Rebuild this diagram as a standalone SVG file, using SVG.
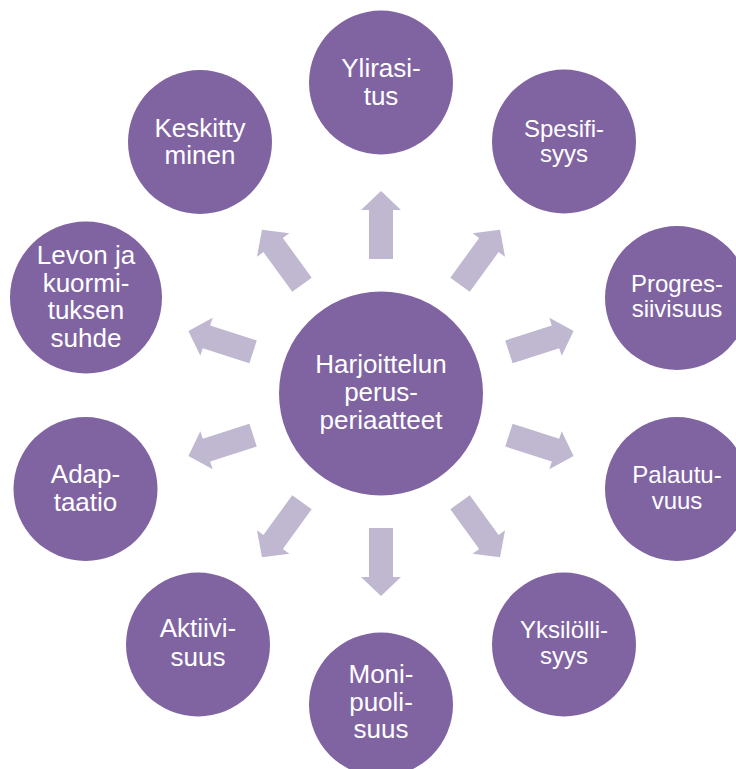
<svg xmlns="http://www.w3.org/2000/svg" width="736" height="769" viewBox="0 0 736 769">
<style>
.n{fill:#8064A2}
.t{font-family:"Liberation Sans",Arial,sans-serif;fill:#ffffff;text-anchor:middle}
.s26{font-size:26px}
.s24{font-size:24px}
.a{fill:#BFB8D0}
</style>
<defs>
<path id="arr" d="M369,259 L369,210 L361,210 L381,191 L401,210 L393,210 L393,259 Z"/>
</defs>
<rect width="736" height="769" fill="#ffffff"/>
<g id="connectors" class="a">
<use href="#arr"/>
<use href="#arr" transform="rotate(36 381 393.5)"/>
<use href="#arr" transform="rotate(72 381 393.5)"/>
<use href="#arr" transform="rotate(108 381 393.5)"/>
<use href="#arr" transform="rotate(144 381 393.5)"/>
<use href="#arr" transform="rotate(180 381 393.5)"/>
<use href="#arr" transform="rotate(216 381 393.5)"/>
<use href="#arr" transform="rotate(252 381 393.5)"/>
<use href="#arr" transform="rotate(288 381 393.5)"/>
<use href="#arr" transform="rotate(324 381 393.5)"/>
</g>
<g id="center">
<circle class="n" cx="381" cy="393.5" r="102"/>
<text class="t s26"><tspan x="381" y="373">Harjoittelun</tspan><tspan x="381" y="401">perus-</tspan><tspan x="381" y="428.5">periaatteet</tspan></text>
</g>
<g id="ylirasitus">
<circle class="n" cx="381" cy="82.5" r="72"/>
<text class="t s26"><tspan x="381" y="77">Ylirasi-</tspan><tspan x="381" y="105">tus</tspan></text>
</g>
<g id="spesifisyys">
<circle class="n" cx="564" cy="141.5" r="72"/>
<text class="t s24"><tspan x="564" y="137">Spesifi-</tspan><tspan x="564" y="162">syys</tspan></text>
</g>
<g id="progressiivisuus">
<circle class="n" cx="677" cy="298" r="72"/>
<text class="t s24"><tspan x="677" y="292">Progres-</tspan><tspan x="677" y="317">siivisuus</tspan></text>
</g>
<g id="palautuvuus">
<circle class="n" cx="677" cy="489" r="72"/>
<text class="t s24"><tspan x="677" y="483">Palautu-</tspan><tspan x="677" y="509">vuus</tspan></text>
</g>
<g id="yksilollisyys">
<circle class="n" cx="564" cy="644.5" r="72"/>
<text class="t s24"><tspan x="564" y="638">Yksilölli-</tspan><tspan x="564" y="664">syys</tspan></text>
</g>
<g id="monipuolisuus">
<circle class="n" cx="381" cy="704.5" r="72"/>
<text class="t s26"><tspan x="381" y="683">Moni-</tspan><tspan x="381" y="710.5">puoli-</tspan><tspan x="381" y="738">suus</tspan></text>
</g>
<g id="aktiivisuus">
<circle class="n" cx="198" cy="644.5" r="72"/>
<text class="t s26"><tspan x="198" y="637">Aktiivi-</tspan><tspan x="198" y="666">suus</tspan></text>
</g>
<g id="adaptaatio">
<circle class="n" cx="85.5" cy="489" r="72"/>
<text class="t s26"><tspan x="85.5" y="483">Adap-</tspan><tspan x="85.5" y="511">taatio</tspan></text>
</g>
<g id="levon">
<circle class="n" cx="86" cy="297.5" r="76"/>
<text class="t s26"><tspan x="86" y="264">Levon ja</tspan><tspan x="86" y="291.5">kuormi-</tspan><tspan x="86" y="319">tuksen</tspan><tspan x="86" y="347">suhde</tspan></text>
</g>
<g id="keskittyminen">
<circle class="n" cx="200" cy="142" r="72"/>
<text class="t s26"><tspan x="200" y="137">Keskitty</tspan><tspan x="200" y="164">minen</tspan></text>
</g>
</svg>
